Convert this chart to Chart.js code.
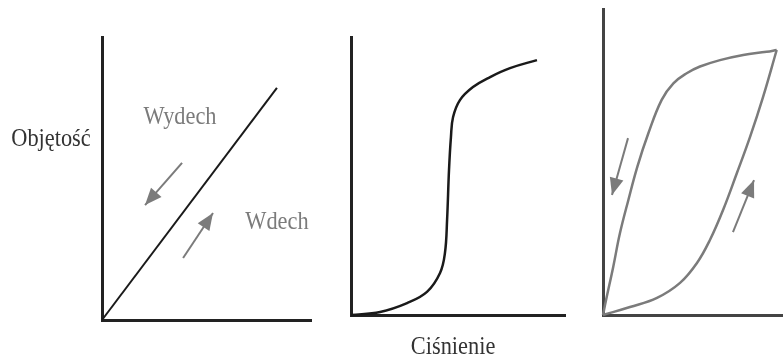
<!DOCTYPE html>
<html>
<head>
<meta charset="utf-8">
<script src="https://cdn.jsdelivr.net/npm/chart.js@4.4.1/dist/chart.umd.min.js"></script>
<style>
    html, body { margin: 0; background: #fff; }
    #wrap { position: relative; width: 783px; height: 360px; overflow: hidden; }
    .panel { position: absolute; top: 0; height: 360px; }
</style>
</head>
<body>
<div id="wrap">
    <div class="panel" style="left:0;width:330px"><canvas id="linear"></canvas></div>
    <div class="panel" style="left:330px;width:250px"><canvas id="sigmoid"></canvas></div>
    <div class="panel" style="left:580px;width:203px"><canvas id="loop"></canvas></div>
</div>
<script>
// pressure (x) / volume (y), both as % of the axis length

// left panel: straight line, same path both ways
const linearPressure = [0, 83.7];
const linearVolume = [0, 82];
const exhaleArrow1X = [38.3, 20.6];
const exhaleArrow1Y = [55.5, 40.6];
const inhaleArrow1X = [38.8, 53.1];
const inhaleArrow1Y = [21.9, 37.8];

// middle panel: S-shaped curve
const sigmoidPressure = [0, 13.6, 26.2, 35.5, 41.6, 43.9, 44.9, 45.8, 46.7, 47.7, 50.9, 57.0, 65.0, 74.3, 86.9];
const sigmoidVolume = [0, 1.1, 4.3, 8.3, 15.1, 22.3, 34.2, 52.2, 64.0, 71.2, 77.3, 82.0, 85.6, 88.8, 91.7];

// right panel: hysteresis loop
const exhalePressure = [0, 1.7, 5.7, 9.4, 14.1, 19.1, 25.2, 32.6, 39.1, 46.5, 53.9, 65.0, 77.9, 90.9, 96.5];
const exhaleVolume = [0, 4.9, 15.8, 26.7, 37.6, 48.5, 59.4, 70.3, 75.7, 79.0, 81.2, 83.3, 85.0, 86.0, 86.6];
const inhalePressure = [0, 15.0, 30.0, 42.8, 52.2, 59.4, 66.7, 74.4, 81.7, 88.9, 96.5];
const inhaleVolume = [0, 2.6, 5.6, 10.5, 17.0, 24.5, 34.3, 46.4, 58.2, 71.2, 86.6];
const exhaleArrow2X = [13.9, 5.0];
const exhaleArrow2Y = [57.8, 39.2];
const inhaleArrow2X = [72.2, 83.9];
const inhaleArrow2Y = [27.1, 44.1];

const FONT = "'Liberation Serif', 'Times New Roman', serif";
const GREY = "#7b7b7b";

const pts = (xs, ys) => xs.map((v, i) => ({ x: v, y: ys[i] }));

// draws arrow heads on datasets flagged with `arrow`, plus free text labels
const annotate = {
    id: "annotate",
    afterDatasetsDraw(chart, args, opts) {
        const { ctx } = chart;
        const xs = chart.scales.x, ys = chart.scales.y;
        ctx.save();
        chart.data.datasets.forEach((ds) => {
            if (!ds.arrow) return;
            const n = ds.data.length;
            const a = ds.data[n - 2], b = ds.data[n - 1];
            const x1 = xs.getPixelForValue(a.x), y1 = ys.getPixelForValue(a.y);
            const x2 = xs.getPixelForValue(b.x), y2 = ys.getPixelForValue(b.y);
            const ang = Math.atan2(y2 - y1, x2 - x1);
            const len = 17, half = 7;
            const bx = x2 - len * Math.cos(ang), by = y2 - len * Math.sin(ang);
            ctx.fillStyle = ds.borderColor;
            ctx.beginPath();
            ctx.moveTo(x2, y2);
            ctx.lineTo(bx + half * Math.sin(ang), by - half * Math.cos(ang));
            ctx.lineTo(bx - half * Math.sin(ang), by + half * Math.cos(ang));
            ctx.closePath();
            ctx.fill();
        });
        // serif labels, slightly narrowed like the printed figure
        (opts.labels || []).forEach((l) => {
            const px = xs.getPixelForValue(l.x), py = ys.getPixelForValue(l.y);
            ctx.save();
            ctx.translate(px, py);
            ctx.scale(0.86, 1);
            ctx.font = "26px " + FONT;
            ctx.fillStyle = l.color;
            ctx.textAlign = "center";
            ctx.textBaseline = "middle";
            ctx.fillText(l.text, 0, 0);
            ctx.restore();
        });
        ctx.restore();
    },
};

function axis(color) {
    return {
        type: "linear",
        min: 0,
        max: 100,
        grid: { display: false, drawTicks: false },
        ticks: { display: false },
        border: { display: true, color: color, width: 3 },
    };
}

function line(data, color, width, smooth) {
    return {
        data,
        showLine: true,
        borderColor: color,
        borderWidth: width,
        pointRadius: 0,
        fill: false,
        clip: false,
        tension: smooth ? 0.4 : 0,
    };
}

function arrow(data) {
    return Object.assign(line(data, GREY, 2, false), { arrow: true });
}

function makeChart(id, datasets, padding, axisColor, labels) {
    return new Chart(document.getElementById(id), {
        type: "scatter",
        data: { datasets },
        options: {
            responsive: true,
            maintainAspectRatio: false,
            animation: false,
            layout: { padding },
            plugins: {
                legend: { display: false },
                tooltip: { enabled: false },
                annotate: { labels },
            },
            scales: { x: axis(axisColor), y: axis(axisColor) },
        },
        plugins: [annotate],
    });
}

makeChart(
    "linear",
    [
        line(pts(linearPressure, linearVolume), "#1a1a1a", 2, false),
        arrow(pts(exhaleArrow1X, exhaleArrow1Y)),
        arrow(pts(inhaleArrow1X, inhaleArrow1Y)),
    ],
    { left: 102, right: 19, top: 37, bottom: 40 },
    "#222",
    [
        { text: "Wydech", x: 37.3, y: 71.7, color: GREY },
        { text: "Wdech", x: 83.7, y: 34.6, color: GREY },
        { text: "Objętość", x: -24.4, y: 64.0, color: "#333" },
    ]
);

makeChart(
    "sigmoid",
    [line(pts(sigmoidPressure, sigmoidVolume), "#1a1a1a", 2.5, true)],
    { left: 21, right: 15, top: 37, bottom: 45 },
    "#222",
    [{ text: "Ciśnienie", x: 47.7, y: -11.5, color: "#333" }]
);

makeChart(
    "loop",
    [
        line(pts(exhalePressure, exhaleVolume), GREY, 2.5, true),
        line(pts(inhalePressure, inhaleVolume), GREY, 2.5, true),
        arrow(pts(exhaleArrow2X, exhaleArrow2Y)),
        arrow(pts(inhaleArrow2X, inhaleArrow2Y)),
    ],
    { left: 23, right: 0, top: 9, bottom: 45 },
    "#444",
    []
);
</script>
</body>
</html>
